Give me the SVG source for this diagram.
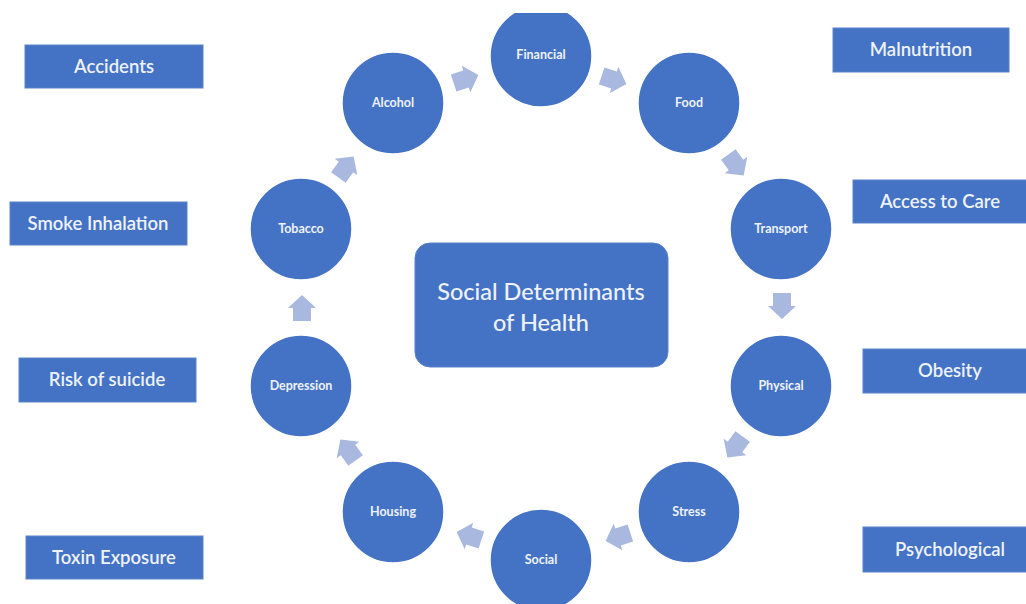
<svg xmlns="http://www.w3.org/2000/svg" width="1026" height="604" viewBox="0 0 1026 604">
<style>
.c{fill:#4472c4;stroke:#ffffff;stroke-width:1.5}
.b{fill:#4472c4;stroke:#5b83c9;stroke-width:1}
.ct{font-family:Lato,"Liberation Sans",sans-serif;font-size:12.5px;font-weight:bold;fill:#eef2fa;text-anchor:middle}
.bt{font-family:Lato,"Liberation Sans",sans-serif;font-size:18.5px;font-weight:600;fill:#eef2fa;text-anchor:middle}
.mt{font-family:Lato,"Liberation Sans",sans-serif;font-size:23.5px;font-weight:500;fill:#eef2fa;text-anchor:middle}
.a{fill:#a9b8df}
</style>
<defs>
<clipPath id="top"><rect x="0" y="13" width="1026" height="591"/></clipPath>
<path id="arr" d="M-13,-9 H0 V-14 L13,0 L0,14 V9 H-13 Z"/>
</defs>
<rect width="1026" height="604" fill="#ffffff"/>
<g id="connectors">
<use href="#arr" class="a" transform="translate(466,79) rotate(-18)"/>
<use href="#arr" class="a" transform="translate(614,80) rotate(18)"/>
<use href="#arr" class="a" transform="translate(736,165) rotate(54)"/>
<use href="#arr" class="a" transform="translate(782,306) rotate(90)"/>
<use href="#arr" class="a" transform="translate(735,447) rotate(126)"/>
<use href="#arr" class="a" transform="translate(618,537) rotate(162)"/>
<use href="#arr" class="a" transform="translate(469,536) rotate(198)"/>
<use href="#arr" class="a" transform="translate(348,450) rotate(234)"/>
<use href="#arr" class="a" transform="translate(302,308) rotate(270)"/>
<use href="#arr" class="a" transform="translate(346,167) rotate(306)"/>
</g>
<g id="financial" clip-path="url(#top)"><circle class="c" cx="541" cy="56" r="51"/><text class="ct" x="541" y="59">Financial</text></g>
<g id="food"><circle class="c" cx="689" cy="103" r="51"/><text class="ct" x="689" y="107">Food</text></g>
<g id="transport"><circle class="c" cx="781" cy="229" r="51"/><text class="ct" x="781" y="233">Transport</text></g>
<g id="physical"><circle class="c" cx="781" cy="386" r="51"/><text class="ct" x="781" y="390">Physical</text></g>
<g id="stress"><circle class="c" cx="689" cy="512" r="51"/><text class="ct" x="689" y="516">Stress</text></g>
<g id="social"><circle class="c" cx="541" cy="560" r="51"/><text class="ct" x="541" y="564">Social</text></g>
<g id="housing"><circle class="c" cx="393" cy="512" r="51"/><text class="ct" x="393" y="516">Housing</text></g>
<g id="depression"><circle class="c" cx="301" cy="386" r="51"/><text class="ct" x="301" y="390">Depression</text></g>
<g id="tobacco"><circle class="c" cx="301" cy="229" r="51"/><text class="ct" x="301" y="233">Tobacco</text></g>
<g id="alcohol"><circle class="c" cx="393" cy="103" r="51"/><text class="ct" x="393" y="107">Alcohol</text></g>
<g id="center"><rect x="415" y="243" width="253" height="124" rx="15" fill="#4472c4" stroke="#5b83c9"/><text class="mt" x="541" y="300">Social Determinants</text><text class="mt" x="541" y="331">of Health</text></g>
<g id="accidents"><rect class="b" x="25" y="45" width="178" height="43"/><text class="bt" x="114" y="73">Accidents</text></g>
<g id="smoke"><rect class="b" x="10" y="202" width="177" height="43"/><text class="bt" x="98" y="230">Smoke Inhalation</text></g>
<g id="suicide"><rect class="b" x="19" y="358" width="177" height="44"/><text class="bt" x="107" y="386">Risk of suicide</text></g>
<g id="toxin"><rect class="b" x="26" y="536" width="177" height="43"/><text class="bt" x="114" y="564">Toxin Exposure</text></g>
<g id="malnutrition"><rect class="b" x="833" y="28" width="176" height="44"/><text class="bt" x="921" y="56">Malnutrition</text></g>
<g id="access"><rect class="b" x="853" y="180" width="175" height="43"/><text class="bt" x="940" y="208">Access to Care</text></g>
<g id="obesity"><rect class="b" x="863" y="349" width="165" height="44"/><text class="bt" x="950" y="377">Obesity</text></g>
<g id="psychological"><rect class="b" x="863" y="527" width="165" height="45"/><text class="bt" x="950" y="556">Psychological</text></g>
</svg>
